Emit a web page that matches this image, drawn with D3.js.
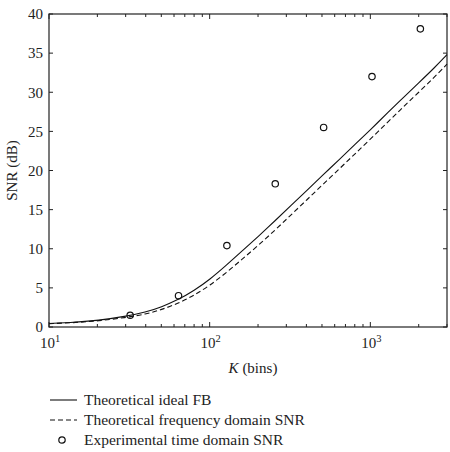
<!DOCTYPE html>
<html>
<head>
<meta charset="utf-8">
<script src="https://cdn.jsdelivr.net/npm/d3@7"></script>
<style>
  body { margin: 0; background: #fff; }
  svg text { font-family: "Liberation Serif", "DejaVu Serif", serif; fill: #222; }
</style>
</head>
<body>
<div id="chart"></div>
<script>
// Curve samples
const curveK = [10, 15, 20, 30, 40, 50, 64, 80, 100, 128, 160, 200, 256, 320, 400, 500, 640, 800, 1000, 1300, 1600, 2000, 2500, 3000];
const idealFB = [0.45, 0.62, 0.82, 1.35, 1.9, 2.55, 3.5, 4.65, 6.05, 7.95, 9.75, 11.55, 13.6, 15.5, 17.4, 19.3, 21.4, 23.3, 25.2, 27.5, 29.3, 31.2, 33.1, 34.8];
const freqDomain = [0.42, 0.58, 0.77, 1.2, 1.65, 2.2, 3.05, 4.05, 5.3, 7.0, 8.7, 10.4, 12.4, 14.3, 16.2, 18.1, 20.2, 22.1, 24.0, 26.3, 28.1, 30.0, 31.9, 33.6];

// Experimental points
const expK = [32, 64, 128, 256, 512, 1024, 2048];
const expSNR = [1.5, 4.0, 10.4, 18.3, 25.5, 32.0, 38.1];

const yTicks = [0, 5, 10, 15, 20, 25, 30, 35, 40];
const xMajor = [10, 100, 1000];
const legendLabels = ["Theoretical ideal FB", "Theoretical frequency domain SNR", "Experimental time domain SNR"];

const W = 450, H = 452;
const margin = { top: 14, right: 3, bottom: 125, left: 49 };
const width = W - margin.left - margin.right;
const height = H - margin.top - margin.bottom;

const svg = d3.select("#chart").append("svg")
    .attr("width", W)
    .attr("height", H);

const g = svg.append("g")
    .attr("transform", `translate(${margin.left},${margin.top})`);

const x = d3.scaleLog().domain([10, 3000]).range([0, width]);
const y = d3.scaleLinear().domain([0, 40]).range([height, 0]);

// minor ticks for log axis
const minor = [];
[10, 100, 1000].forEach(d => {
    for (let m = 2; m <= 9; m++) if (d * m <= 3000) minor.push(d * m);
});

// frame
g.append("rect")
    .attr("width", width)
    .attr("height", height)
    .attr("fill", "none")
    .attr("stroke", "#222")
    .attr("stroke-width", 1.2);

// x ticks (bottom and top, pointing inward)
[[height, -1], [0, 1]].forEach(([y0, dir]) => {
    g.selectAll(null).data(xMajor).join("line")
        .attr("x1", d => x(d)).attr("x2", d => x(d))
        .attr("y1", y0).attr("y2", y0 + dir * 5)
        .attr("stroke", "#222");
    g.selectAll(null).data(minor).join("line")
        .attr("x1", d => x(d)).attr("x2", d => x(d))
        .attr("y1", y0).attr("y2", y0 + dir * 3)
        .attr("stroke", "#222");
});

// y ticks (left and right)
[[0, 1], [width, -1]].forEach(([x0, dir]) => {
    g.selectAll(null).data(yTicks).join("line")
        .attr("x1", x0).attr("x2", x0 + dir * 4)
        .attr("y1", d => y(d)).attr("y2", d => y(d))
        .attr("stroke", "#222");
});

// y tick labels
g.selectAll(null).data(yTicks).join("text")
    .attr("x", -6)
    .attr("y", d => y(d))
    .attr("dy", "0.35em")
    .attr("text-anchor", "end")
    .attr("font-size", 15)
    .text(d => d);

// x tick labels 10^n
const xl = g.selectAll(null).data(xMajor).join("text")
    .attr("x", d => x(d) + 1)
    .attr("y", height + 21)
    .attr("text-anchor", "middle")
    .attr("font-size", 15);
xl.append("tspan").text("10");
xl.append("tspan")
    .attr("dy", -6)
    .attr("font-size", 10.5)
    .text(d => Math.round(Math.log10(d)));

// axis titles
const xt = g.append("text")
    .attr("x", width / 2 + 5)
    .attr("y", height + 46)
    .attr("text-anchor", "middle")
    .attr("font-size", 15);
xt.append("tspan").attr("font-style", "italic").text("K");
xt.append("tspan").text(" (bins)");

g.append("text")
    .attr("transform", "rotate(-90)")
    .attr("x", -height / 2)
    .attr("y", -32)
    .attr("text-anchor", "middle")
    .attr("font-size", 15)
    .text("SNR (dB)");

// curves (basis spline smooths the read-off samples)
const line = d3.line()
    .x(d => x(d[0]))
    .y(d => y(d[1]))
    .curve(d3.curveBasis);

g.append("path")
    .datum(curveK.map((k, i) => [k, idealFB[i]]))
    .attr("d", line)
    .attr("fill", "none")
    .attr("stroke", "#111")
    .attr("stroke-width", 1.1);

g.append("path")
    .datum(curveK.map((k, i) => [k, freqDomain[i]]))
    .attr("d", line)
    .attr("fill", "none")
    .attr("stroke", "#111")
    .attr("stroke-width", 1.1)
    .attr("stroke-dasharray", "5,3");

// experimental points
g.selectAll(null).data(expK).join("circle")
    .attr("cx", d => x(d))
    .attr("cy", (d, i) => y(expSNR[i]))
    .attr("r", 3.2)
    .attr("fill", "none")
    .attr("stroke", "#111")
    .attr("stroke-width", 1.2);

// legend
const leg = svg.append("g").attr("transform", "translate(50,400)");
legendLabels.forEach((label, i) => {
    const row = leg.append("g").attr("transform", `translate(0,${i * 20})`);
    if (i < 2) {
        row.append("line")
            .attr("x1", 0).attr("x2", 27)
            .attr("stroke", "#111")
            .attr("stroke-width", 1.1)
            .attr("stroke-dasharray", i === 1 ? "5,3" : null);
    } else {
        row.append("circle")
            .attr("cx", 12).attr("r", 3.2)
            .attr("fill", "none")
            .attr("stroke", "#111")
            .attr("stroke-width", 1.2);
    }
    row.append("text")
        .attr("x", 34)
        .attr("dy", "0.35em")
        .attr("font-size", 15.5)
        .text(label);
});
</script>
</body>
</html>
